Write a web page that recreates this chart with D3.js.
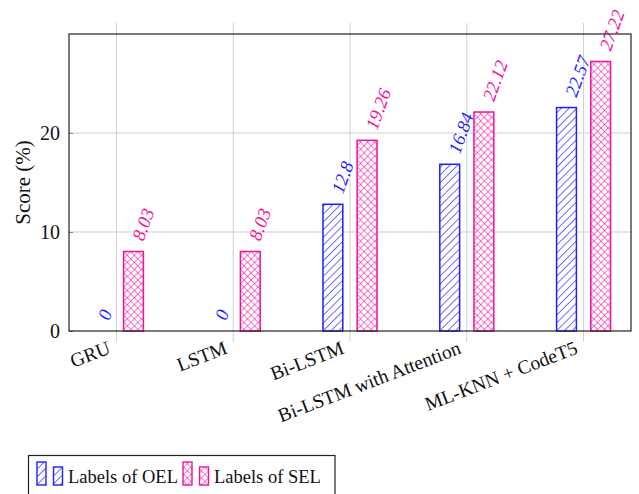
<!DOCTYPE html>
<html>
<head>
<meta charset="utf-8">
<script src="https://cdn.jsdelivr.net/npm/d3@7"></script>
<style>
  html, body { margin: 0; padding: 0; background: #fff; }
  svg { display: block; font-family: "Liberation Serif", "Times New Roman", serif; }
</style>
</head>
<body>
<svg id="chart" width="639" height="494"></svg>
<script>
// Model names along the x axis
const categories = ["GRU", "LSTM", "Bi-LSTM", "Bi-LSTM with Attention", "ML-KNN + CodeT5"];
// Scores (%) for each label set
const oelValues = [0, 0, 12.8, 16.84, 22.57];
const selValues = [8.03, 8.03, 19.26, 22.12, 27.22];
const seriesNames = ["Labels of OEL", "Labels of SEL"];
const yTicks = [0, 10, 20];

const plotLeft = 69, plotRight = 631, plotTop = 34, plotBottom = 331;
const BLUE = "#1f1fff", PINK = "#f2119b", GRID = "#cfcfcf";
const SERIF = "Liberation Serif, Times New Roman, serif";

const svg = d3.select("#chart");
const defs = svg.append("defs");

// Diagonal "north east lines" hatch
const hatch = defs.append("pattern")
  .attr("id", "hatchNE").attr("patternUnits", "userSpaceOnUse")
  .attr("width", 5.5).attr("height", 5.5)
  .attr("patternTransform", "rotate(45)");
hatch.append("rect").attr("width", 5.5).attr("height", 5.5).attr("fill", "#fff");
hatch.append("line").attr("x1", 0).attr("y1", 0).attr("x2", 0).attr("y2", 5.5)
  .attr("stroke", BLUE).attr("stroke-width", 1.3);

// Crosshatch
const cross = defs.append("pattern")
  .attr("id", "crossHatch").attr("patternUnits", "userSpaceOnUse")
  .attr("width", 5).attr("height", 5)
  .attr("patternTransform", "rotate(45)");
cross.append("rect").attr("width", 5).attr("height", 5).attr("fill", "#fff");
cross.append("line").attr("x1", 0).attr("y1", 0).attr("x2", 0).attr("y2", 5)
  .attr("stroke", PINK).attr("stroke-width", 1.1);
cross.append("line").attr("x1", 0).attr("y1", 0).attr("x2", 5).attr("y2", 0)
  .attr("stroke", PINK).attr("stroke-width", 1.1);

const x = d3.scalePoint().domain(categories).range([plotLeft, plotRight]).padding(0.406);
const sub = d3.scaleBand().domain(seriesNames).range([-27, 27]).paddingInner(0.42);
const y = d3.scaleLinear().domain([0, 30]).range([plotBottom, plotTop]);

const styles = [
  { name: seriesNames[0], values: oelValues, color: BLUE, fill: "url(#hatchNE)" },
  { name: seriesNames[1], values: selValues, color: PINK, fill: "url(#crossHatch)" }
];

// Grid
const grid = svg.append("g");
grid.selectAll("line.v").data(categories).join("line")
  .attr("x1", d => x(d)).attr("x2", d => x(d))
  .attr("y1", plotTop - 11).attr("y2", plotBottom + 11)
  .attr("stroke", GRID).attr("stroke-width", 1);
grid.selectAll("line.h").data(yTicks.slice(1)).join("line")
  .attr("x1", plotLeft).attr("x2", plotRight)
  .attr("y1", d => y(d)).attr("y2", d => y(d))
  .attr("stroke", GRID).attr("stroke-width", 1);

// Y axis tick labels and inner ticks
const yAxis = d3.axisLeft(y).tickValues(yTicks).tickSize(-4).tickPadding(9).tickFormat(d3.format("d"));
const yg = svg.append("g").attr("transform", `translate(${plotLeft},0)`).call(yAxis)
  .attr("font-family", SERIF).attr("font-size", 20);
yg.select(".domain").remove();
yg.selectAll(".tick line").attr("stroke", "#888");
yg.selectAll(".tick text").attr("fill", "#111");

// Bars
styles.forEach(s => {
  const g = svg.append("g");
  g.selectAll("rect").data(categories).join("rect")
    .attr("x", d => x(d) + sub(s.name))
    .attr("width", sub.bandwidth())
    .attr("y", (d, i) => y(s.values[i]))
    .attr("height", (d, i) => y(0) - y(s.values[i]))
    .attr("fill", s.fill)
    .attr("stroke", s.color).attr("stroke-width", 1.5);
  // value labels
  g.selectAll("text").data(categories).join("text")
    .attr("transform", (d, i) =>
      `translate(${x(d) + sub(s.name) + sub.bandwidth() / 2},${y(s.values[i])}) rotate(-70)`)
    .attr("x", 12.5)
    .attr("dy", "0.33em")
    .attr("font-size", 18.5).attr("font-style", "italic")
    .attr("fill", s.color)
    .text((d, i) => String(s.values[i]));
});

// Frame
svg.append("rect").attr("x", plotLeft).attr("y", plotTop)
  .attr("width", plotRight - plotLeft).attr("height", plotBottom - plotTop)
  .attr("fill", "none").attr("stroke", "#222").attr("stroke-width", 1.2);

// X tick labels
svg.append("g").selectAll("text").data(categories).join("text")
  .attr("transform", d => `translate(${x(d) - 7},${plotBottom + 16}) rotate(-21)`)
  .attr("text-anchor", "end").attr("dy", "0.33em")
  .attr("font-size", 19.5).attr("fill", "#111")
  .text(d => d);

// Y axis title
svg.append("text")
  .attr("transform", `translate(23,${(plotTop + plotBottom) / 2}) rotate(-90)`)
  .attr("text-anchor", "middle").attr("dy", "0.33em")
  .attr("font-size", 21).attr("fill", "#111")
  .text("Score (%)");

// Legend
const lg = svg.append("g");
lg.append("rect").attr("x", 28.5).attr("y", 455.5).attr("width", 306.5).attr("height", 45)
  .attr("fill", "#fff").attr("stroke", "#222").attr("stroke-width", 1.2);
const legendItems = [
  { s: styles[0], x0: 37 },
  { s: styles[1], x0: 183 }
];
legendItems.forEach(it => {
  lg.append("rect").attr("x", it.x0).attr("y", 462).attr("width", 9).attr("height", 23)
    .attr("fill", it.s.fill).attr("stroke", it.s.color).attr("stroke-width", 1.4);
  lg.append("rect").attr("x", it.x0 + 16.5).attr("y", 467).attr("width", 9).attr("height", 18)
    .attr("fill", it.s.fill).attr("stroke", it.s.color).attr("stroke-width", 1.4);
  lg.append("text").attr("x", it.x0 + 31).attr("y", 483)
    .attr("font-size", 18.5).attr("fill", "#111").text(it.s.name);
});
</script>
</body>
</html>
